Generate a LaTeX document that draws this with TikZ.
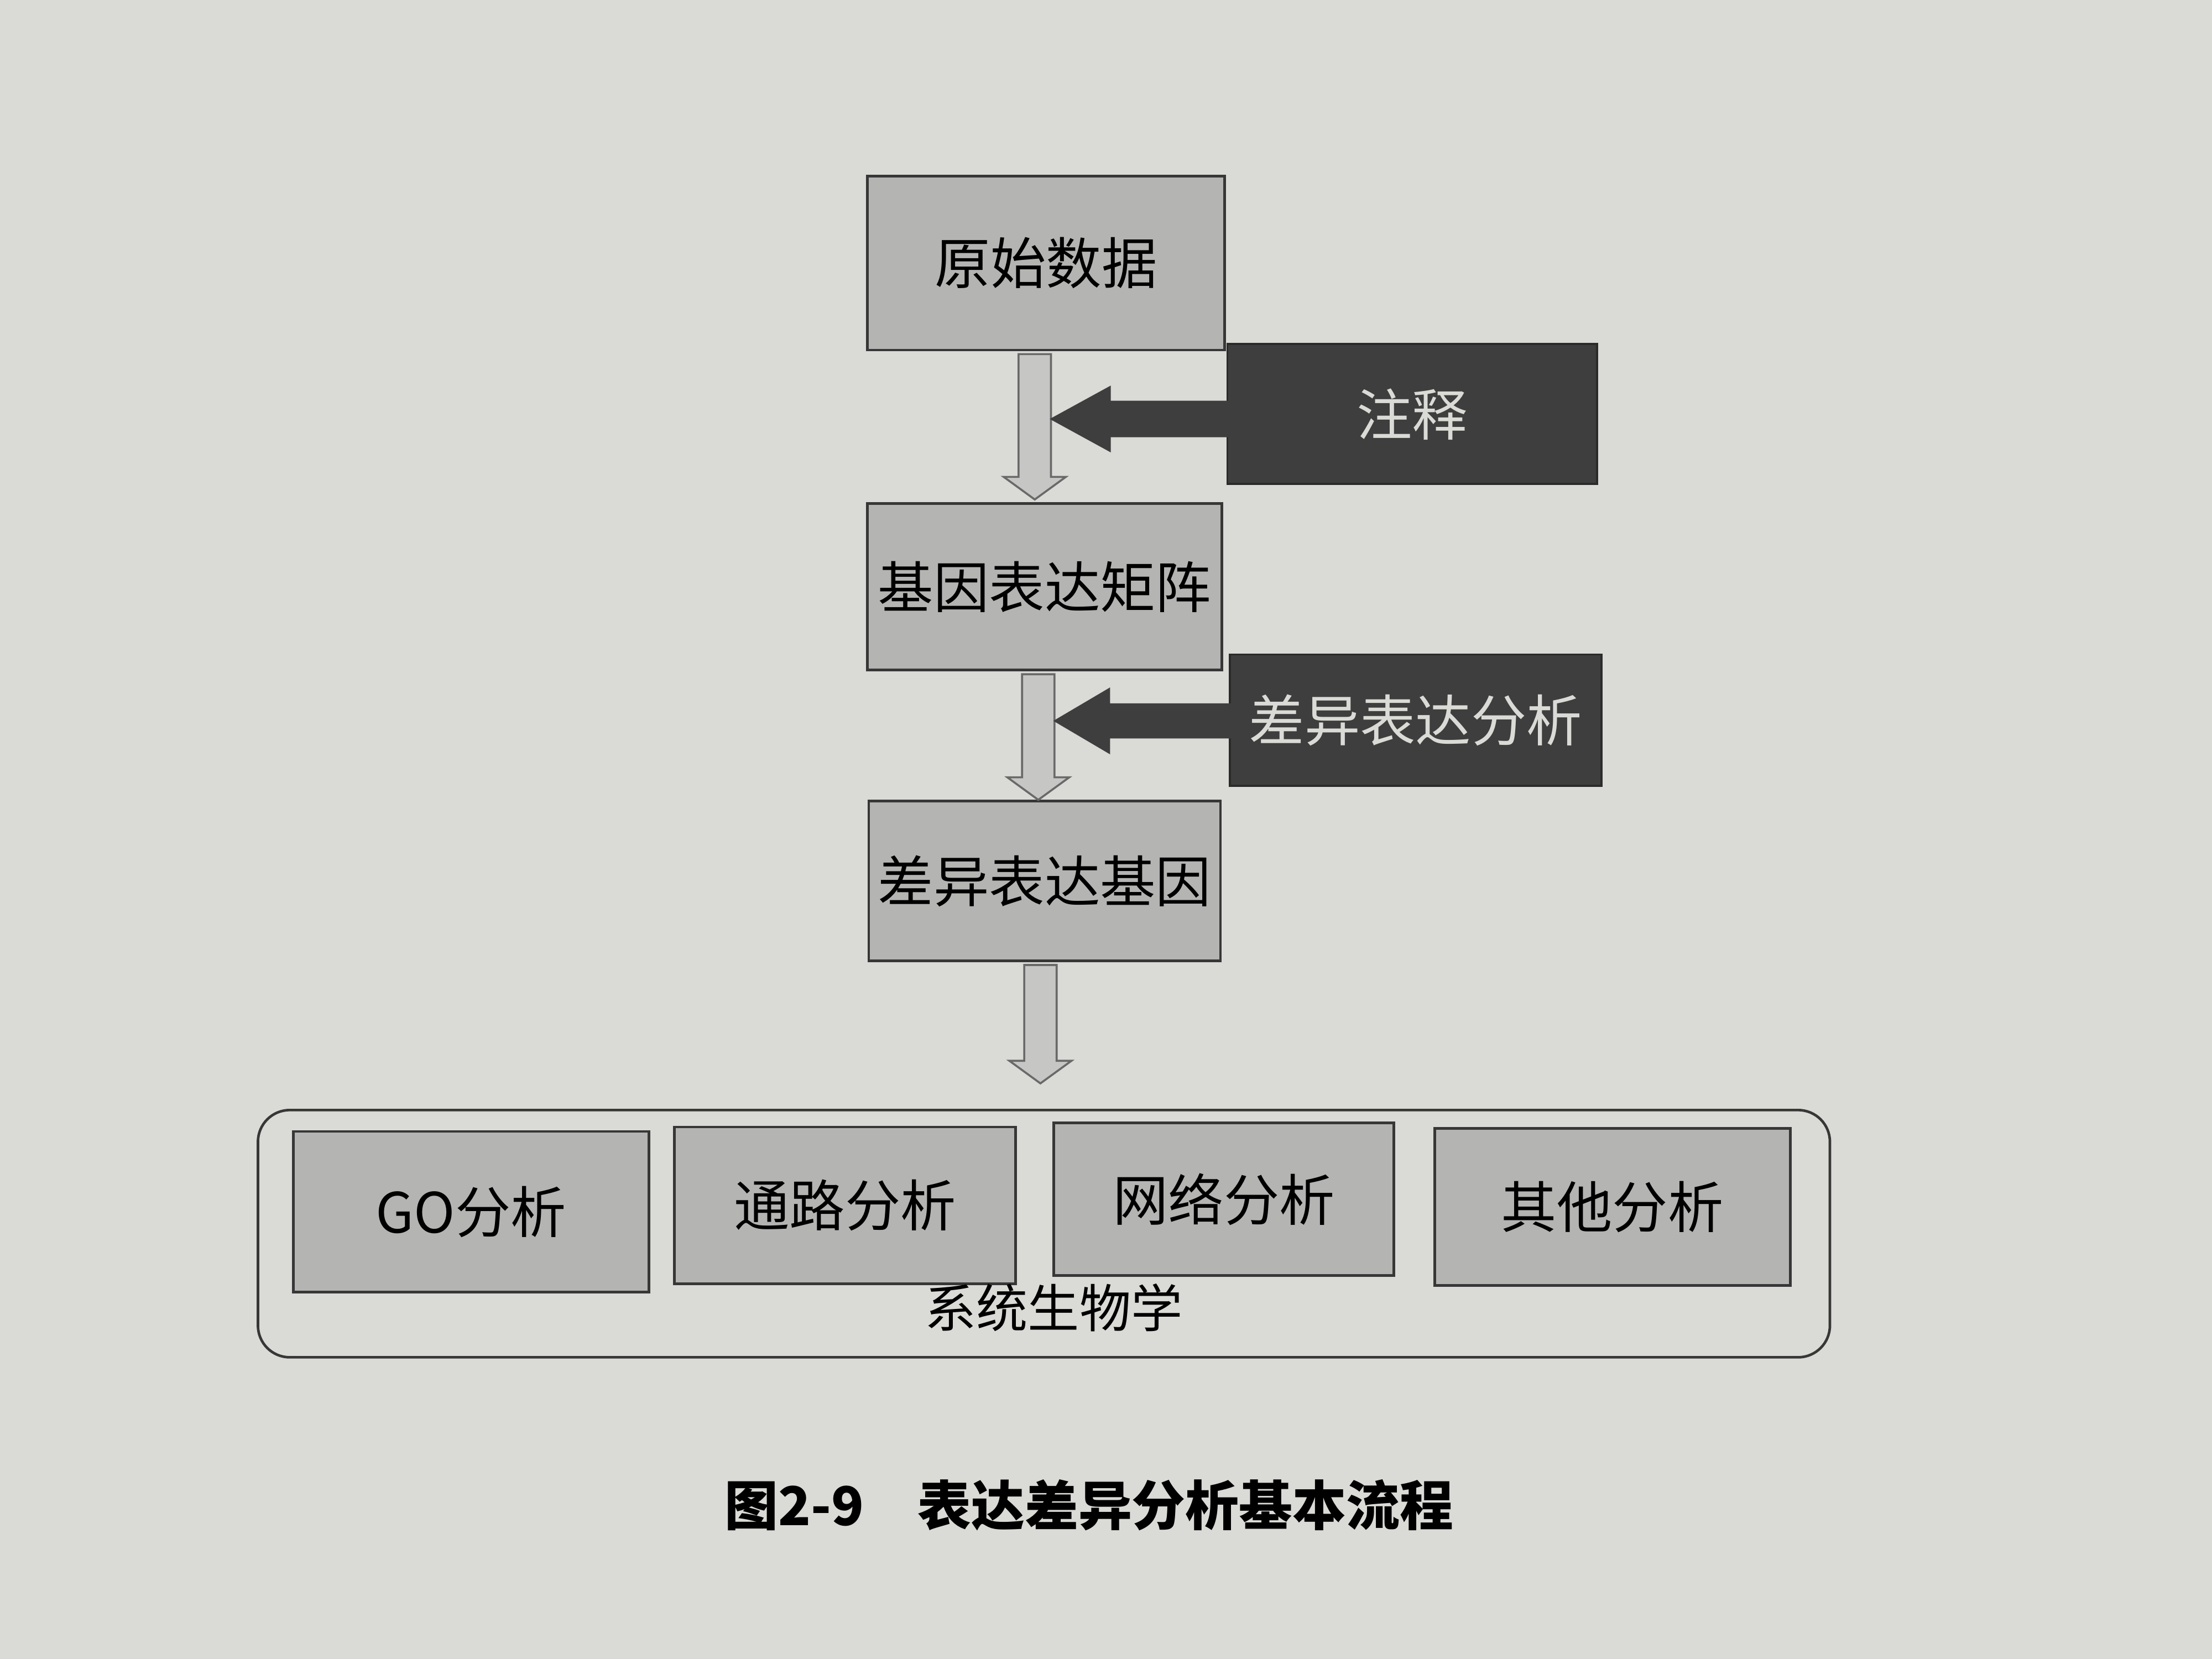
\documentclass[tikz,border=0pt]{standalone}
\usepackage{fontspec}
\setmainfont{Noto Sans CJK SC}
\usetikzlibrary{calc}

\definecolor{pagebg}{RGB}{218,218,214}
\definecolor{boxfill}{RGB}{180,180,178}
\definecolor{boxline}{RGB}{55,55,55}
\definecolor{darkfill}{RGB}{62,62,62}
\definecolor{notetext}{RGB}{218,218,214}
\definecolor{arrowfill}{RGB}{198,198,196}
\definecolor{arrowline}{RGB}{105,105,105}

\begin{document}
\begin{tikzpicture}[x=0.025cm,y=-0.025cm,
  stepbox/.style={draw=boxline,fill=boxfill,line width=1.3pt,inner sep=0pt,
    font=\fontsize{28}{30}\selectfont},
  notebox/.style={draw=darkfill!70!black,fill=darkfill,text=notetext,line width=1pt,
    inner sep=0pt,font=\fontsize{28}{30}\selectfont},
  flowarrow/.style={draw=arrowline,fill=arrowfill,line width=1pt,line join=miter},
  notearrow/.style={fill=darkfill,draw=darkfill,line width=0.6pt}]
  \fill[pagebg] (0,0) rectangle (1568,1176);
  % main column
  \node[stepbox,minimum width=6.33cm,minimum height=3.08cm] (raw) at (741.5,186.5) {原始数据};
  \node[stepbox,minimum width=6.28cm,minimum height=2.95cm] (matrix) at (740.5,416) {基因表达矩阵};
  \node[stepbox,minimum width=6.23cm,minimum height=2.83cm] (degene) at (740.5,624.5) {差异表达基因};
  % side inputs
  \node[notebox,minimum width=6.55cm,minimum height=2.48cm] (annot) at (1001,293.5) {注释};
  \node[notebox,minimum width=6.58cm,minimum height=2.33cm] (diffan) at (1003.5,510.5) {差异表达分析};
  % systems biology block
  \node[draw=boxline,line width=1.3pt,rounded corners=16pt,minimum width=27.85cm,
    minimum height=4.38cm] (sysbio) at (740,874.5) {};
  \node[stepbox,minimum width=6.3cm,minimum height=2.85cm] (go) at (334,859) {GO分析};
  \node[stepbox,minimum width=6.05cm,minimum height=2.78cm] (path) at (599,854.5) {通路分析};
  \node[stepbox,minimum width=6.03cm,minimum height=2.7cm] (net) at (867.5,850) {网络分析};
  \node[stepbox,minimum width=6.3cm,minimum height=2.78cm] (other) at (1143,855.5) {其他分析};
  \node[font=\fontsize{26}{28}\selectfont] (sysbiolabel) at (747,927) {系统生物学};

  % down arrows
  \foreach \u/\l/\dx/\gap in {raw/matrix/-8/2,matrix/degene/-4.5/0,degene/sysbio/-3/18}{
    \coordinate (e\u) at (\u.south |- \l.north);
    \draw[flowarrow] ($(\u.south)+(\dx-11.5,2)$) -- ($(\u.south)+(\dx+11.5,2)$)
      -- ($(e\u)+(\dx+11.5,-\gap-16)$) -- ($(e\u)+(\dx+22,-\gap-16)$)
      -- ($(e\u)+(\dx,-\gap)$) -- ($(e\u)+(\dx-22,-\gap-16)$)
      -- ($(e\u)+(\dx-11.5,-\gap-16)$) -- cycle;
    \coordinate (s\u) at ($(\u.south)+(\dx+11.5,0)$);
  }

  % arrows from the side inputs
  \coordinate (t1) at (sraw |- annot.west);
  \coordinate (t2) at (smatrix |- diffan.west);
  \draw[notearrow] ($(annot.west)+(2,-9)$) -- ($(t1)+(42,-9)$) -- ($(t1)+(42,-19.5)$)
    -- ($(t1)+(0,3.5)$) -- ($(t1)+(42,26.5)$) -- ($(t1)+(42,16)$)
    -- ($(annot.west)+(2,16)$) -- cycle;
  \draw[notearrow] ($(diffan.west)+(2,-11.5)$) -- ($(t2)+(39,-11.5)$) -- ($(t2)+(39,-22.5)$)
    -- ($(t2)+(0,0.5)$) -- ($(t2)+(39,23.5)$) -- ($(t2)+(39,12.5)$)
    -- ($(diffan.west)+(2,12.5)$) -- cycle;

  % caption
  \node[font=\fontsize{27}{29}\selectfont\bfseries] (caption) at (772,1067)
    {图2-9\quad 表达差异分析基本流程};
\end{tikzpicture}
\end{document}
